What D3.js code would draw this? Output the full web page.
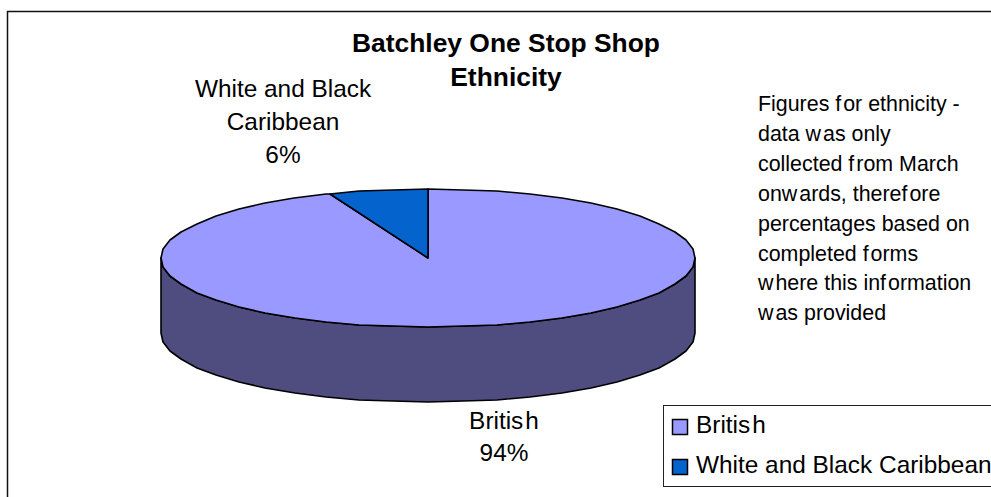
<!DOCTYPE html>
<html>
<head>
<meta charset="utf-8">
<script src="https://cdn.jsdelivr.net/npm/d3@7"></script>
<style>
  html, body { margin: 0; padding: 0; background: #fff; overflow: hidden; }
  svg { display: block; }
  text { font-family: "Liberation Sans", Arial, sans-serif; fill: #000; }
</style>
</head>
<body>
<svg id="chart" width="991" height="497"></svg>
<script>
// Ethnicity breakdown for the shop, in percent
const categories = ["British", "White and Black Caribbean"];
const values = [94, 6];
const sliceColors = ["#9999ff", "#0563cd"];
const wallColor = "#4f4d7f";
const titleLines = ["Batchley One Stop Shop", "Ethnicity"];
const noteLines = [
  "Figures for ethnicity -",
  "data was only",
  "collected from March",
  "onwards, therefore",
  "percentages based on",
  "completed forms",
  "where this information",
  "was provided"
];

const svg = d3.select("#chart");

// Outer chart frame runs off the right and bottom edges of the page
svg.append("rect")
  .attr("x", 7.5).attr("y", 11.5).attr("width", 1000).attr("height", 520)
  .attr("fill", "#fff").attr("stroke", "#111").attr("stroke-width", 1.5);

// Pie geometry: a flattened disc with a vertical wall below it
const cx = 428, cy = 258, rx = 267, ry = 69, depth = 75;
const facet = Math.PI / 24;

const arcs = d3.pie().sort(null).value(d => d)(values);

// Point on the rim at a clockwise angle from twelve o'clock, snapped to whole pixels
const rimPoint = (a, dy = 0) => [
  Math.round(cx + rx * Math.sin(a)),
  Math.round(cy - ry * Math.cos(a) + dy)
];

// Angles from a to b in even facets, always including both ends
const facetAngles = (a, b) => {
  const inner = d3.range(Math.ceil(a / facet + 1e-6), Math.floor(b / facet - 1e-6) + 1).map(k => k * facet);
  return [a, ...inner, b];
};

const line = d3.line();

// Visible wall: the front half of the rim, from the right edge round to the left
const rimAngles = facetAngles(Math.PI / 2, 3 * Math.PI / 2);
const wall = line([
  ...rimAngles.map(a => rimPoint(a)),
  ...rimAngles.slice().reverse().map(a => rimPoint(a, depth))
]) + "Z";

svg.append("path")
  .attr("d", wall)
  .attr("fill", wallColor)
  .attr("stroke", "#000")
  .attr("stroke-width", 1.6)
  .attr("stroke-linejoin", "round");

// Top face of the pie
svg.append("g")
  .selectAll("path")
  .data(arcs)
  .join("path")
  .attr("d", d => line([[cx, cy], ...facetAngles(d.startAngle, d.endAngle).map(a => rimPoint(a))]) + "Z")
  .attr("fill", (d, i) => sliceColors[i])
  .attr("stroke", "#000")
  .attr("stroke-width", 1.6)
  .attr("stroke-linejoin", "round");

// Writes one line, widening the gap after "w" and "f" and before the final "h"
// of "British" the way the chart's text is set
function setLine(sel, line, gap) {
  const parts = line.split(/(?<=[wf])(?=[a-z])|(?<=Britis)(?=h)/);
  sel.selectAll("tspan").data(parts).join("tspan")
    .attr("dx", (d, i) => i ? gap : 0)
    .text(d => d);
}

// Title
svg.append("g").selectAll("text").data(titleLines).join("text")
  .attr("x", 506)
  .attr("y", (d, i) => 52 + i * 34)
  .attr("text-anchor", "middle")
  .attr("font-size", 26.4)
  .attr("font-weight", "bold")
  .text(d => d);

// Data labels
const sliceLabels = [
  { lines: ["British", "94%"], x: 504, y: 429, step: 32 },
  { lines: ["White and Black", "Caribbean", "6%"], x: 283, y: 97, step: 33 }
];
sliceLabels.forEach(l => {
  svg.append("g").selectAll("text").data(l.lines).join("text")
    .attr("x", l.x)
    .attr("y", (d, i) => l.y + i * l.step)
    .attr("text-anchor", "middle")
    .attr("font-size", 24.4)
    .each(function (d) { setLine(d3.select(this), d, 2); });
});

// Side note
svg.append("g").selectAll("text").data(noteLines).join("text")
  .attr("x", 758)
  .attr("y", (d, i) => 111 + i * 29.9)
  .attr("font-size", 21.4)
  .each(function (d) { setLine(d3.select(this), d, 2); });

// Legend, cut off by the right edge of the page
const legendX = 663, legendY = 405;
svg.append("rect")
  .attr("x", legendX + 0.5).attr("y", legendY + 0.5)
  .attr("width", 400).attr("height", 81)
  .attr("fill", "#fff").attr("stroke", "#222");

const legend = svg.append("g").selectAll("g").data(categories).join("g")
  .attr("transform", (d, i) => `translate(${legendX + 9},${legendY + 14 + i * 40})`);
legend.append("rect")
  .attr("x", 0.5).attr("y", 0.5).attr("width", 15).attr("height", 15)
  .attr("fill", (d, i) => sliceColors[i])
  .attr("stroke", "#000").attr("stroke-width", 1.5);
legend.append("text")
  .attr("x", 24).attr("y", 14)
  .attr("font-size", 24.4)
  .each(function (d) { setLine(d3.select(this), d, 2); });
</script>
</body>
</html>
